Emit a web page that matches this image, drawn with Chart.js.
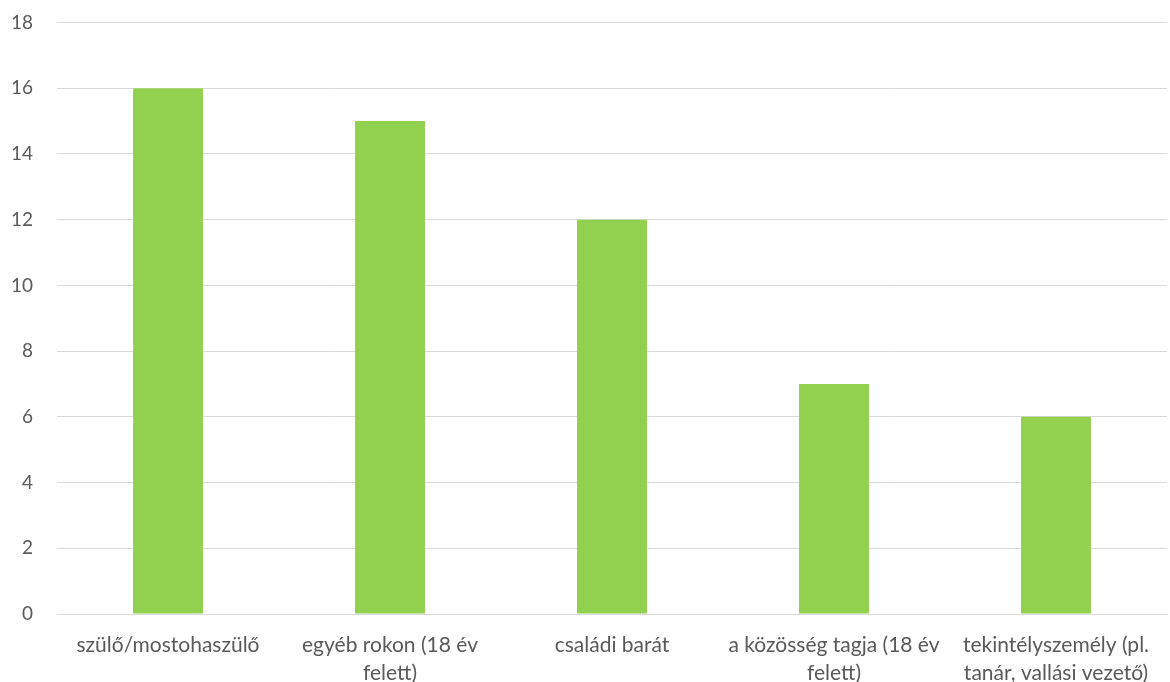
<!DOCTYPE html>
<html>
<head>
<meta charset="utf-8">
<script src="https://cdn.jsdelivr.net/npm/chart.js@4/dist/chart.umd.min.js"></script>
<style>
  html, body { margin: 0; padding: 0; background: #ffffff; }
  #frame { width: 1170px; height: 682px; position: relative; overflow: hidden; }
  #wrap { width: 1170px; height: 693px; position: absolute; left: 0; top: -11px; }
</style>
</head>
<body>
<div id="frame"><div id="wrap"><canvas id="chart"></canvas></div></div>
<script>
// Categories (wrapped into lines as displayed under the axis)
const categories = [
  ["szülő/mostohaszülő"],
  ["egyéb rokon (18 év", "felett)"],
  ["családi barát"],
  ["a közösség tagja (18 év", "felett)"],
  ["tekintélyszemély (pl.", "tanár, vallási vezető)"]
];
const values = [16, 15, 12, 7, 6];
const yTicks = { min: 0, max: 18, step: 2 };

const ctx = document.getElementById('chart');
new Chart(ctx, {
  type: 'bar',
  data: {
    labels: categories,
    datasets: [{
      data: values,
      backgroundColor: '#92D050',
      borderWidth: 0,
      barPercentage: 0.315,
      categoryPercentage: 1.0
    }]
  },
  options: {
    responsive: true,
    maintainAspectRatio: false,
    animation: false,
    layout: { padding: { top: 0, right: 3, bottom: 0, left: 0 } },
    plugins: { legend: { display: false }, tooltip: { enabled: false } },
    scales: {
      x: {
        grid: { display: false, drawTicks: false },
        border: { display: true, color: '#d9d9d9', width: 1 },
        ticks: {
          color: '#595959',
          font: { family: 'Lato', size: 21, lineHeight: 1.3 },
          padding: 18,
          maxRotation: 0,
          autoSkip: false
        },
        afterFit(scale) { scale.height = 68; }
      },
      y: {
        min: yTicks.min,
        max: yTicks.max,
        grid: { color: '#d9d9d9', lineWidth: 1, drawTicks: false },
        border: { display: false },
        ticks: {
          stepSize: yTicks.step,
          color: '#595959',
          font: { family: 'Lato', size: 19, lineHeight: 1.0 },
          padding: 24
        },
        afterFit(scale) { scale.width = 57; }
      }
    }
  }
});
</script>
</body>
</html>
